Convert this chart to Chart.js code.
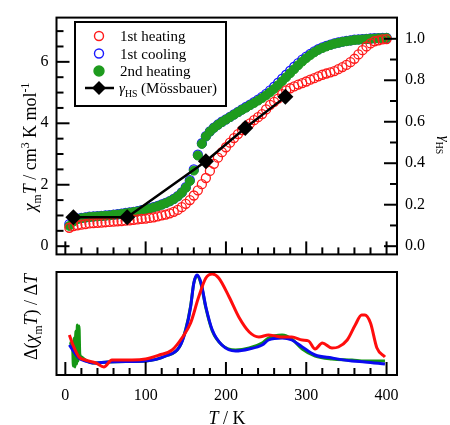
<!DOCTYPE html>
<html><head><meta charset="utf-8">
<script src="https://cdn.jsdelivr.net/npm/chart.js@4.4.0/dist/chart.umd.min.js"></script>
<style>
html,body{margin:0;padding:0;background:#fff;}
#wrap{position:relative;width:450px;height:425px;overflow:hidden;}
canvas{position:absolute;left:0;}
</style></head><body>
<div id="wrap">
<canvas id="bot" width="450" height="157" style="top:268px"></canvas>
<canvas id="top" width="450" height="272" style="top:0"></canvas>
</div>
<script>
// ---------- data ----------
const temps = [5,10,15,20,25,30,35,40,45,50,55,60,65,70,75,80,85,90,95,100,105,110,115,120,125,130,135,140,145,150,155,160,165,170,175,180,185,190,195,200,205,210,215,220,225,230,235,240,245,250,255,260,265,270,275,280,285,290,295,300,305,310,315,320,325,330,335,340,345,350,355,360,365,370,375,380,385,390,395,400];
const heating1 = [0.60,0.65,0.68,0.70,0.72,0.74,0.75,0.76,0.77,0.78,0.79,0.80,0.81,0.82,0.83,0.84,0.86,0.87,0.89,0.90,0.92,0.94,0.97,1.00,1.03,1.07,1.12,1.18,1.27,1.38,1.50,1.65,1.82,2.02,2.22,2.45,2.68,2.88,3.06,3.22,3.37,3.52,3.65,3.78,3.90,4.00,4.10,4.20,4.30,4.45,4.60,4.70,4.80,4.95,5.07,5.14,5.20,5.26,5.31,5.36,5.42,5.47,5.53,5.58,5.62,5.66,5.70,5.76,5.83,5.90,5.99,6.10,6.24,6.38,6.50,6.60,6.67,6.70,6.73,6.74];
const cooling1 = [0.72,0.85,0.90,0.92,0.94,0.96,0.97,0.98,0.99,1.00,1.01,1.03,1.04,1.06,1.08,1.10,1.12,1.14,1.17,1.20,1.23,1.27,1.31,1.36,1.41,1.47,1.54,1.63,1.75,1.92,2.15,2.50,2.98,3.35,3.58,3.74,3.86,3.96,4.05,4.13,4.21,4.29,4.37,4.45,4.53,4.61,4.69,4.77,4.86,4.96,5.07,5.19,5.32,5.45,5.58,5.71,5.84,5.96,6.07,6.17,6.26,6.34,6.41,6.47,6.52,6.56,6.60,6.63,6.66,6.68,6.70,6.72,6.73,6.74,6.75,6.76,6.77,6.77,6.78,6.78];
const heating2 = [0.66,0.80,0.88,0.91,0.93,0.95,0.96,0.97,0.98,0.99,1.00,1.02,1.03,1.05,1.07,1.09,1.11,1.13,1.16,1.19,1.22,1.26,1.30,1.35,1.40,1.46,1.53,1.62,1.74,1.90,2.12,2.46,2.95,3.33,3.57,3.73,3.85,3.95,4.04,4.12,4.20,4.28,4.36,4.44,4.51,4.59,4.66,4.74,4.82,4.91,5.01,5.12,5.24,5.37,5.50,5.63,5.76,5.89,6.01,6.12,6.22,6.31,6.39,6.45,6.50,6.55,6.59,6.62,6.65,6.67,6.69,6.71,6.72,6.73,6.74,6.75,6.76,6.77,6.77,6.78];
const mossT = [10,77,175,224,274];
const mossGamma = [0.14,0.14,0.41,0.57,0.72];

const dRedT = [5,10,17,25,38,48,58,70,83,100,117,133,146,156,166,175,183,191,204,216,229,241,253,262,270,282,295,303,311,320,332,340,351,361,369,373,380,388,398];
const dRed  = [41,30,19,16,13,9,16,16,16,17,21,26,39,53,79,98,102,98,79,59,44,39,41,40,39,39,36,35,27,33,28,29,36,51,61,61,53,28,19];
const dBlueT = [5,10,17,25,34,53,75,100,125,142,150,156,160,164,169,175,183,195,212,229,245,253,270,282,295,311,332,357,373,398];
const dBlue  = [31,25,18,15,13,14,14.5,15,20,29,46,69,93,101,93,69,46,31,25,27,31,36,38,36,29,21,18,15,14,12];
const dGreenT = [5,9,10,11,12,13,14,15,16,17,18,20,25,34,53,75,100,125,142,150,156,160,164,169,175,183,195,212,229,245,253,270,282,295,311,332,357,373,398];
const dGreen  = [33,30,10,38,9,45,12,51,15,50,22,19,16,13,14,14.5,15,20,29,47,70,93,100,92,68,45,31,26,28,33,38,41,37,27,20,17,16,15,15];

const chiTicks = [0,2,4,6];
const chiMinor = [0.5,1,1.5,2.5,3,3.5,4.5,5,5.5,6.5,7];
const gammaTicks = [0,0.2,0.4,0.6,0.8,1.0];
const gammaMinor = [0.1,0.3,0.5,0.7,0.9];
const tempTicks = [0,100,200,300,400];
const tempMinor = [20,40,60,80,120,140,160,180,220,240,260,280,320,340,360,380];

const legendLabels = ['1st heating','1st cooling','2nd heating',' (Mössbauer)'];

// ---------- styles ----------
const SERIF = '"Liberation Serif", "Times New Roman", serif';
const RED = '#ff1a1a', BLUE = '#1a1aff', GREEN = '#1e9b1e';

function fontOf(s, size){
  const sz = (s.sub || s.sup) ? size*0.65 : size;
  return (s.it ? 'italic ' : '') + sz + 'px ' + SERIF;
}
function drawRich(ctx, segs, x, y, rot, size, align){
  ctx.save();
  ctx.translate(x, y); ctx.rotate(rot);
  ctx.textBaseline = 'alphabetic'; ctx.textAlign = 'left'; ctx.fillStyle = '#000';
  let w = 0;
  for (const s of segs){ ctx.font = fontOf(s, size); w += ctx.measureText(s.t).width; }
  let cx = align === 'left' ? 0 : -w/2;
  for (const s of segs){
    ctx.font = fontOf(s, size);
    const dy = s.sub ? size*0.25 : (s.sup ? -size*0.4 : 0);
    ctx.fillText(s.t, cx, dy);
    cx += ctx.measureText(s.t).width;
  }
  ctx.restore();
}
function drawTicks(chart, axisId, side, majors, minors){
  const sc = chart.scales[axisId], a = chart.chartArea, ctx = chart.ctx;
  ctx.save(); ctx.strokeStyle = '#000'; ctx.lineWidth = 2;
  const d = (v, len) => {
    const p = sc.getPixelForValue(v);
    ctx.beginPath();
    if (side === 'left'){ ctx.moveTo(a.left, p); ctx.lineTo(a.left+len, p); }
    else if (side === 'right'){ ctx.moveTo(a.right, p); ctx.lineTo(a.right-len, p); }
    else { ctx.moveTo(p, a.bottom); ctx.lineTo(p, a.bottom-len); }
    ctx.stroke();
  };
  majors.forEach(v => d(v, 13)); minors.forEach(v => d(v, 7));
  ctx.restore();
}
function drawFrame(chart){
  const a = chart.chartArea, ctx = chart.ctx;
  ctx.save(); ctx.strokeStyle = '#000'; ctx.lineWidth = 2;
  ctx.strokeRect(a.left, a.top, a.right-a.left, a.bottom-a.top);
  ctx.restore();
}
function circle(ctx, x, y, r, fill, stroke){
  ctx.beginPath(); ctx.arc(x, y, r, 0, Math.PI*2);
  if (fill){ ctx.fillStyle = fill; ctx.fill(); }
  if (stroke){ ctx.strokeStyle = stroke; ctx.lineWidth = 1.4; ctx.stroke(); }
}

const topPlugin = {
  id: 'topDeco',
  afterDraw(chart){
    const ctx = chart.ctx;
    drawFrame(chart);
    drawTicks(chart, 'y', 'left', chiTicks, chiMinor);
    drawTicks(chart, 'y1', 'right', gammaTicks, gammaMinor);
    drawTicks(chart, 'x', 'bottom', tempTicks, tempMinor);
    // legend
    ctx.save();
    ctx.fillStyle = '#fff'; ctx.fillRect(75, 22, 151, 84);
    ctx.strokeStyle = '#000'; ctx.lineWidth = 2; ctx.strokeRect(75, 22, 151, 84);
    circle(ctx, 99, 36, 4.5, null, RED);
    circle(ctx, 99, 53.5, 4.5, null, BLUE);
    circle(ctx, 99, 71, 5, GREEN, GREEN);
    ctx.strokeStyle = '#000'; ctx.lineWidth = 2.5;
    ctx.beginPath(); ctx.moveTo(85, 88); ctx.lineTo(114, 88); ctx.stroke();
    ctx.fillStyle = '#000';
    ctx.beginPath(); ctx.moveTo(99, 81); ctx.lineTo(106, 88); ctx.lineTo(99, 95); ctx.lineTo(92, 88); ctx.closePath(); ctx.fill();
    ctx.font = '15px ' + SERIF; ctx.textBaseline = 'alphabetic'; ctx.textAlign = 'left';
    ctx.fillText(legendLabels[0], 120, 41);
    ctx.fillText(legendLabels[1], 120, 58.5);
    ctx.fillText(legendLabels[2], 120, 76);
    ctx.restore();
    drawRich(ctx, [{t:'γ', it:true},{t:'HS', sub:true},{t:legendLabels[3]}], 119, 93, 0, 15, 'left');
    // axis titles
    drawRich(ctx, [{t:'χ',it:true},{t:'m',sub:true},{t:'T',it:true},{t:' / cm'},{t:'3',sup:true},{t:' K mol'},{t:'-1',sup:true}], 36, 147, -Math.PI/2, 18);
    drawRich(ctx, [{t:'γ',it:true},{t:'HS',sub:true}], 440, 145, Math.PI/2, 15);
  }
};
const botPlugin = {
  id: 'botDeco',
  afterDraw(chart){
    const ctx = chart.ctx;
    drawFrame(chart);
    drawTicks(chart, 'x', 'bottom', tempTicks, tempMinor);
    drawRich(ctx, [{t:'Δ('},{t:'χ',it:true},{t:'m',sub:true},{t:'T',it:true},{t:') / Δ'},{t:'T',it:true}], 37, 317-268, -Math.PI/2, 18);
    drawRich(ctx, [{t:'T',it:true},{t:' / K'}], 227, 424-268, 0, 18);
  }
};

const xMin = -11, xMax = 413;
const pts = (xs, ys) => xs.map((x,i) => ({x, y: ys[i]}));

new Chart(document.getElementById('top'), {
  type: 'line',
  data: { datasets: [
    { label: 'γHS (Mössbauer)', data: pts(mossT, mossGamma), yAxisID: 'y1', order: 0,
      borderColor: '#000', backgroundColor: '#000', borderWidth: 2.5, showLine: true, tension: 0,
      pointStyle: 'rectRot', pointRadius: 8, pointBorderWidth: 0 },
    { label: legendLabels[0], data: pts(temps, heating1), yAxisID: 'y', order: 1, showLine: false,
      pointStyle: 'circle', pointRadius: 4.5, pointBorderWidth: 1.3, borderColor: RED, backgroundColor: 'rgba(0,0,0,0)' },
    { label: legendLabels[2], data: pts(temps, heating2), yAxisID: 'y', order: 2, showLine: false,
      pointStyle: 'circle', pointRadius: 4.5, pointBorderWidth: 1, borderColor: GREEN, backgroundColor: GREEN },
    { label: legendLabels[1], data: pts(temps, cooling1), yAxisID: 'y', order: 3, showLine: false,
      pointStyle: 'circle', pointRadius: 4.5, pointBorderWidth: 1.3, borderColor: BLUE, backgroundColor: 'rgba(0,0,0,0)' }
  ]},
  options: {
    responsive: false, animation: false, devicePixelRatio: 1,
    layout: { padding: { top: 11.5, bottom: 1, left: 0, right: 0 } },
    plugins: { legend: { display: false }, tooltip: { enabled: false } },
    scales: {
      x: { type: 'linear', min: xMin, max: xMax, display: false },
      y: { type: 'linear', position: 'left', min: -0.267, max: 7.44,
        afterBuildTicks: s => { s.ticks = chiTicks.map(v => ({value: v})); },
        afterFit: s => { s.width = 56.5; },
        ticks: { color: '#000', font: { family: SERIF, size: 16 }, padding: 8, callback: v => String(v) },
        grid: { display: false, drawTicks: false }, border: { display: false } },
      y1: { type: 'linear', position: 'right', min: -0.0396, max: 1.1022,
        afterBuildTicks: s => { s.ticks = gammaTicks.map(v => ({value: v})); },
        afterFit: s => { s.width = 53; },
        ticks: { color: '#000', font: { family: SERIF, size: 16 }, padding: 8, callback: v => Number(v).toFixed(1) },
        grid: { display: false, drawTicks: false }, border: { display: false } }
    }
  },
  plugins: [topPlugin]
});

new Chart(document.getElementById('bot'), {
  type: 'line',
  data: { datasets: [
    { label: 'heating 1', data: pts(dRedT, dRed), order: 0, borderColor: '#ff0d0d', borderWidth: 3, pointRadius: 0, cubicInterpolationMode: 'monotone' },
    { label: 'cooling 1', data: pts(dBlueT, dBlue), order: 1, borderColor: '#0a0af0', borderWidth: 3, pointRadius: 0, cubicInterpolationMode: 'monotone' },
    { label: 'heating 2', data: pts(dGreenT, dGreen), order: 2, borderColor: '#149614', borderWidth: 3, pointRadius: 0, cubicInterpolationMode: 'monotone' }
  ]},
  options: {
    responsive: false, animation: false, devicePixelRatio: 1,
    layout: { padding: { top: 4, bottom: 0, left: 56.5, right: 53 } },
    plugins: { legend: { display: false }, tooltip: { enabled: false } },
    scales: {
      x: { type: 'linear', position: 'bottom', min: xMin, max: xMax,
        afterBuildTicks: s => { s.ticks = tempTicks.map(v => ({value: v})); },
        afterFit: s => { s.height = 50; },
        ticks: { color: '#000', font: { family: SERIF, size: 16 }, padding: 11, maxRotation: 0, callback: v => String(v) },
        grid: { display: false, drawTicks: false }, border: { display: false } },
      y: { type: 'linear', min: 1, max: 104, display: false }
    }
  },
  plugins: [botPlugin]
});
</script>
</body></html>
